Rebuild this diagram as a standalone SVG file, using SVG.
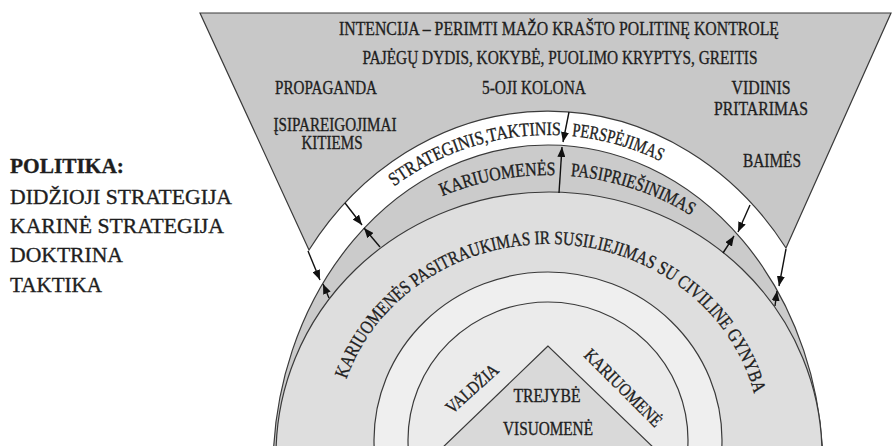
<svg xmlns="http://www.w3.org/2000/svg" width="893" height="446" viewBox="0 0 893 446">
<style>
.sh{stroke:#3a3a3a;stroke-width:1.2}
.t{font-family:"Liberation Serif","Times New Roman",serif;fill:#1e1e1e;stroke:#1e1e1e;stroke-width:0.35}
.top{font-size:19.5px}
.lt{font-size:22px}
.cv{font-size:19px}
.tr{font-size:18px}
.ar{stroke:#111;stroke-width:1.4;fill:none;marker-end:url(#ah)}
</style>
<defs>
<marker id="ah" viewBox="0 0 10 8" refX="10" refY="4" markerWidth="10" markerHeight="8" markerUnits="userSpaceOnUse" orient="auto">
<path d="M0,0 L10,4 L0,8 Z" fill="#111"/>
</marker>
<path id="pw" d="M271,440 A277,305 0 0 1 825,440"/>
<path id="pg" d="M278,442 A270,267 0 0 1 818,442"/>
<path id="pb" d="M336,440 A212,196 0 0 1 760,440"/>
</defs>
<rect width="893" height="446" fill="#fff"/>

<g id="trapezoid">
<path class="sh" d="M200,13 L891,13 L786,248 A293,329 0 0 0 309,250 Z" fill="#c8c8c8"/>
</g>
<g id="ring-resistance">
<ellipse class="sh" cx="548" cy="470" rx="275" ry="325" fill="#cbcbcb"/>
</g>
<g id="ring-withdrawal">
<ellipse class="sh" cx="549" cy="455" rx="273" ry="263" fill="#dedede"/>
</g>
<g id="ring-inner">
<ellipse class="sh" cx="548" cy="440" rx="174" ry="168" fill="#efefef"/>
<ellipse class="sh" cx="548" cy="440" rx="140" ry="138" fill="#ebebeb"/>
</g>
<g id="trinity">
<path class="sh" d="M548,346 L440,450 L656,450 Z" fill="#d9d9d9"/>
<text class="t tr" x="547" y="402" text-anchor="middle" textLength="67" lengthAdjust="spacingAndGlyphs">TREJYBĖ</text>
<text class="t tr" x="548" y="435" text-anchor="middle" textLength="90" lengthAdjust="spacingAndGlyphs">VISUOMENĖ</text>
<text class="t tr" transform="translate(476,393) rotate(-42)" text-anchor="middle" textLength="64" lengthAdjust="spacingAndGlyphs">VALDŽIA</text>
<text class="t tr" transform="translate(619,392) rotate(45)" text-anchor="middle" textLength="102" lengthAdjust="spacingAndGlyphs">KARIUOMENĖ</text>
</g>

<g id="connectors">
<path class="ar" d="M569,112 L563,142"/>
<path class="ar" d="M559,193 L562,147"/>
<path class="ar" d="M345,203 L362,225"/>
<path class="ar" d="M380,247 L364,228"/>
<path class="ar" d="M308,251 L320,280"/>
<path class="ar" d="M329,298 L323,284"/>
<path class="ar" d="M750,205 L738,232"/>
<path class="ar" d="M723,253 L734,236"/>
<path class="ar" d="M786,249 L779,286"/>
<path class="ar" d="M775,306 L777,291"/>
</g>

<g id="top-texts">
<text class="t top" x="559" y="35" text-anchor="middle" textLength="440" lengthAdjust="spacingAndGlyphs">INTENCIJA – PERIMTI MAŽO KRAŠTO POLITINĘ KONTROLĘ</text>
<text class="t top" x="560" y="64" text-anchor="middle" textLength="395" lengthAdjust="spacingAndGlyphs">PAJĖGŲ DYDIS, KOKYBĖ, PUOLIMO KRYPTYS, GREITIS</text>
<text class="t top" x="326" y="94" text-anchor="middle" textLength="102" lengthAdjust="spacingAndGlyphs">PROPAGANDA</text>
<text class="t top" x="534" y="94" text-anchor="middle" textLength="104" lengthAdjust="spacingAndGlyphs">5-OJI KOLONA</text>
<text class="t top" x="761" y="94" text-anchor="middle" textLength="59" lengthAdjust="spacingAndGlyphs">VIDINIS</text>
<text class="t top" x="761" y="115" text-anchor="middle" textLength="94" lengthAdjust="spacingAndGlyphs">PRITARIMAS</text>
<text class="t top" x="335" y="131" text-anchor="middle" textLength="123" lengthAdjust="spacingAndGlyphs">ĮSIPAREIGOJIMAI</text>
<text class="t top" x="332" y="149" text-anchor="middle" textLength="61" lengthAdjust="spacingAndGlyphs">KITIEMS</text>
<text class="t top" x="772" y="167" text-anchor="middle" textLength="58" lengthAdjust="spacingAndGlyphs">BAIMĖS</text>
</g>

<g id="arc-texts">
<text class="t cv"><textPath href="#pw" startOffset="292" textLength="178" lengthAdjust="spacingAndGlyphs">STRATEGINIS,TAKTINIS</textPath></text>
<text class="t cv"><textPath href="#pw" startOffset="481" textLength="93" lengthAdjust="spacingAndGlyphs">PERSPĖJIMAS</textPath></text>
<text class="t cv"><textPath href="#pg" startOffset="313" textLength="116" lengthAdjust="spacingAndGlyphs">KARIUOMENĖS</textPath></text>
<text class="t cv"><textPath href="#pg" startOffset="444" textLength="128" lengthAdjust="spacingAndGlyphs">PASIPRIEŠINIMAS</textPath></text>
<text class="t cv"><textPath href="#pb" startOffset="62" textLength="532" lengthAdjust="spacingAndGlyphs">KARIUOMENĖS PASITRAUKIMAS IR SUSILIEJIMAS SU CIVILINE GYNYBA</textPath></text>
</g>

<g id="politics">
<text class="t lt" x="10" y="173" font-weight="bold" textLength="114" lengthAdjust="spacingAndGlyphs">POLITIKA:</text>
<text class="t lt" x="10" y="204" textLength="222" lengthAdjust="spacingAndGlyphs">DIDŽIOJI STRATEGIJA</text>
<text class="t lt" x="10" y="233" textLength="214" lengthAdjust="spacingAndGlyphs">KARINĖ STRATEGIJA</text>
<text class="t lt" x="10" y="262" textLength="113" lengthAdjust="spacingAndGlyphs">DOKTRINA</text>
<text class="t lt" x="10" y="292" textLength="92" lengthAdjust="spacingAndGlyphs">TAKTIKA</text>
</g>
</svg>
